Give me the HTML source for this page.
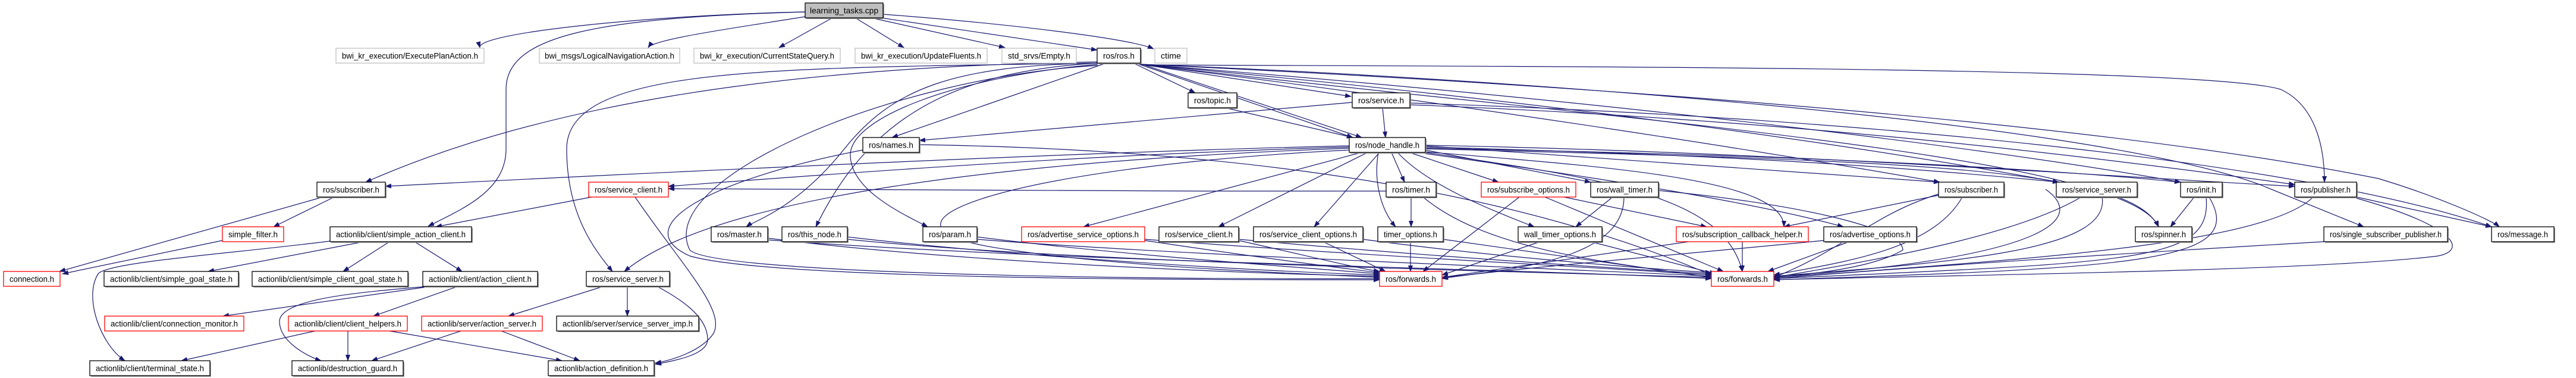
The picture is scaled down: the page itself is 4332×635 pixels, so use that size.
<!DOCTYPE html>
<html><head><meta charset="utf-8"><style>
html,body{margin:0;padding:0;background:#fff;width:4332px;height:635px;overflow:hidden}
svg{display:block}
text{font-family:"Liberation Sans",sans-serif;font-size:14px;fill:#000}
.e{fill:none;stroke:#191970;stroke-width:1.2;marker-end:url(#a)}
.n{fill:#fff;stroke:#000;stroke-width:1.3}
.r{fill:#fff;stroke:#ff0000;stroke-width:1.3}
.g{fill:#fff;stroke:#bfbfbf;stroke-width:1.3}
.s{fill:#999;stroke:none}
</style></head><body>
<svg width="4332" height="635" viewBox="0 0 4332 635" xmlns="http://www.w3.org/2000/svg">
<defs><marker id="a" markerUnits="userSpaceOnUse" markerWidth="11" markerHeight="8" refX="10" refY="4" orient="auto"><path d="M0,0 L11,4 L0,8 z" fill="#191970"/></marker></defs>
<g>
<path class="e" d="M1354,20 C1100,25 800,55 807,80"/>
<path class="e" d="M1360,27 C1250,45 1100,65 1090,80"/>
<path class="e" d="M1398,31 L1310,80"/>
<path class="e" d="M1440,31 L1520,80"/>
<path class="e" d="M1470,31 L1690,80"/>
<path class="e" d="M1475,29 L1845,84"/>
<path class="e" d="M1485,24 C1700,40 1900,65 1940,82"/>
<path class="e" d="M1354,20 C1000,30 851,60 851,150 L851,250 C851,320 780,350 720,380"/>
<path class="e" d="M1846,104 C1300,112 900,180 615,306"/>
<path class="e" d="M1846,106 C1300,115 953,110 953,250 C953,360 1000,420 1030,456"/>
<path class="e" d="M1860,106 L1500,231"/>
<path class="e" d="M1846,106 C1600,110 1500,150 1420,250 C1340,350 1270,370 1255,381"/>
<path class="e" d="M1846,106 C1600,120 1460,200 1372,381"/>
<path class="e" d="M1846,108 C1600,130 1430,200 1430,260 C1430,320 1520,360 1560,381"/>
<path class="e" d="M1906,106 L2010,156"/>
<path class="e" d="M1918,108 L2272,162"/>
<path class="e" d="M1915,106 L2290,231"/>
<path class="e" d="M1910,106 L2275,231"/>
<path class="e" d="M1918,109 C2500,112 3700,110 3835,150 C3900,180 3909,260 3909,306"/>
<path class="e" d="M1918,108 C2600,140 3500,200 4000,300 C4100,330 4190,370 4203,381"/>
<path class="e" d="M1918,108 C2500,130 3500,200 3800,310 L3975,381"/>
<path class="e" d="M1918,108 C2600,160 3300,240 3667,306"/>
<path class="e" d="M1918,108 C2600,170 3100,240 3462,306"/>
<path class="e" d="M1918,108 C2500,180 3000,260 3262,306"/>
<path class="e" d="M1918,108 C2700,200 3580,260 3630,381"/>
<path class="e" d="M1846,110 C1500,130 1100,300 1160,420 C1200,460 1900,470 2320,468"/>
<path class="e" d="M2060,181 L2275,231"/>
<path class="e" d="M2325,181 L2330,231"/>
<path class="e" d="M2274,172 L1546,236"/>
<path class="e" d="M2371,173 C3200,200 3900,280 4190,381"/>
<path class="e" d="M2371,176 C3000,200 3500,260 3859,310"/>
<path class="e" d="M1546,243 C2000,250 2500,300 2878,462"/>
<path class="e" d="M1451,252 C1200,300 1050,380 1160,430 C1300,470 2000,470 2320,470"/>
<path class="e" d="M2269,245 C1800,255 900,300 648,313"/>
<path class="e" d="M2269,247 C1800,260 1300,300 1124,313"/>
<path class="e" d="M2269,249 C1700,270 1200,330 1050,456"/>
<path class="e" d="M2290,256 L1822,381"/>
<path class="e" d="M2300,256 L2049,381"/>
<path class="e" d="M2320,256 L2210,381"/>
<path class="e" d="M2340,256 L2362,306"/>
<path class="e" d="M2318,256 C2310,300 2320,350 2347,381"/>
<path class="e" d="M2370,256 L2520,306"/>
<path class="e" d="M2397,252 L2675,306"/>
<path class="e" d="M2350,256 C2400,310 2500,350 2580,381"/>
<path class="e" d="M2397,258 C2700,300 2950,340 3100,381"/>
<path class="e" d="M2397,245 L3262,306"/>
<path class="e" d="M2397,247 C2900,260 3200,280 3462,306"/>
<path class="e" d="M2397,249 C3000,260 3400,280 3667,306"/>
<path class="e" d="M2397,250 C3200,270 3580,280 3630,381"/>
<path class="e" d="M2397,244 C3000,255 3600,300 3859,313"/>
<path class="e" d="M2397,255 C2700,280 3000,300 3000,381"/>
<path class="e" d="M2269,252 C1700,280 1400,380 1700,420 C1900,450 2200,460 2320,466"/>
<path class="e" d="M2397,256 C2700,300 2900,330 2930,456"/>
<path class="e" d="M562,331 L460,381"/>
<path class="e" d="M543,331 L100,456"/>
<path class="e" d="M374,404 L105,460"/>
<path class="e" d="M995,331 L733,381"/>
<path class="e" d="M1068,331 C1150,450 1220,520 1200,560 C1180,590 1130,605 1102,610"/>
<path class="e" d="M612,406 L350,456"/>
<path class="e" d="M655,406 L577,456"/>
<path class="e" d="M697,406 L777,456"/>
<path class="e" d="M555,405 C400,425 180,440 165,460 C140,500 170,580 210,606"/>
<path class="e" d="M725,481 L375,531"/>
<path class="e" d="M770,481 L628,531"/>
<path class="e" d="M720,481 C620,490 470,500 470,540 C470,575 520,600 540,606"/>
<path class="e" d="M530,556 L305,606"/>
<path class="e" d="M585,556 L585,606"/>
<path class="e" d="M655,556 L945,606"/>
<path class="e" d="M775,556 L625,606"/>
<path class="e" d="M843,556 L975,606"/>
<path class="e" d="M1015,481 L855,531"/>
<path class="e" d="M1055,481 L1055,531"/>
<path class="e" d="M1105,481 C1140,500 1190,530 1190,570 C1190,595 1140,605 1102,612"/>
<path class="e" d="M1291,400 C1600,440 2100,460 2320,464"/>
<path class="e" d="M1425,398 C1700,430 2100,455 2320,462"/>
<path class="e" d="M1643,398 C1900,430 2200,450 2320,460"/>
<path class="e" d="M1291,403 C1800,440 2500,450 2878,468"/>
<path class="e" d="M1425,402 C1800,440 2500,455 2878,466"/>
<path class="e" d="M1643,402 C2000,430 2600,450 2878,464"/>
<path class="e" d="M1925,404 C2100,430 2250,450 2320,458"/>
<path class="e" d="M1925,402 C2300,430 2700,450 2878,462"/>
<path class="e" d="M2083,404 C2200,430 2280,450 2320,456"/>
<path class="e" d="M2083,402 C2400,430 2700,450 2878,460"/>
<path class="e" d="M2225,406 L2330,456"/>
<path class="e" d="M2292,402 C2500,430 2750,450 2878,458"/>
<path class="e" d="M2373,331 L2373,381"/>
<path class="e" d="M2393,331 C2500,420 2700,440 2878,466"/>
<path class="e" d="M2331,321 C1900,322 1400,318 1124,317"/>
<path class="e" d="M2372,406 L2372,456"/>
<path class="e" d="M2427,402 L2878,466"/>
<path class="e" d="M2555,331 L2393,456"/>
<path class="e" d="M2598,331 L2898,456"/>
<path class="e" d="M2630,331 L2870,381"/>
<path class="e" d="M2712,331 L2650,381"/>
<path class="e" d="M2731,331 C2731,420 2600,450 2425,466"/>
<path class="e" d="M2590,406 L2425,462"/>
<path class="e" d="M2675,406 L2885,460"/>
<path class="e" d="M2930,406 L2930,456"/>
<path class="e" d="M2840,406 L2425,466"/>
<path class="e" d="M3110,406 L2973,456"/>
<path class="e" d="M3067,404 C2800,430 2500,455 2425,468"/>
<path class="e" d="M2789,320 C3000,340 3200,380 3200,420 C3150,450 3050,460 2983,466"/>
<path class="e" d="M3260,326 C3150,360 3100,420 2983,466"/>
<path class="e" d="M3260,328 L3000,381"/>
<path class="e" d="M3300,331 C3250,420 3100,440 2983,462"/>
<path class="e" d="M3500,331 C3400,390 3200,430 2983,466"/>
<path class="e" d="M3535,331 C3550,420 3300,440 2983,464"/>
<path class="e" d="M3690,331 L3650,381"/>
<path class="e" d="M3710,331 C3720,440 3600,440 2983,468"/>
<path class="e" d="M3715,331 C3780,440 3600,450 2983,470"/>
<path class="e" d="M3963,331 L4190,381"/>
<path class="e" d="M3890,331 C3800,420 3300,440 2983,468"/>
<path class="e" d="M3963,333 C4130,380 4150,420 4100,430 C3900,455 3300,462 2983,470"/>
<path class="e" d="M3908,406 C3500,430 3200,450 2983,468"/>
<path class="e" d="M3440,318 C3500,360 3480,430 2983,466"/>
</g>
<g>
<rect class="s" x="1356" y="7" width="131" height="25"/><rect x="1354" y="5" width="131" height="25" fill="#bfbfbf" stroke="#000" stroke-width="1.3"/><text x="1419.5" y="22.5" text-anchor="middle" textLength="115" lengthAdjust="spacingAndGlyphs">learning_tasks.cpp</text>
<rect class="g" x="565" y="81" width="249" height="25"/><text x="689.5" y="98.5" text-anchor="middle" textLength="229" lengthAdjust="spacingAndGlyphs">bwi_kr_execution/ExecutePlanAction.h</text>
<rect class="g" x="907" y="81" width="236" height="25"/><text x="1025" y="98.5" text-anchor="middle" textLength="218" lengthAdjust="spacingAndGlyphs">bwi_msgs/LogicalNavigationAction.h</text>
<rect class="g" x="1167" y="81" width="246" height="25"/><text x="1290" y="98.5" text-anchor="middle" textLength="226" lengthAdjust="spacingAndGlyphs">bwi_kr_execution/CurrentStateQuery.h</text>
<rect class="g" x="1438" y="81" width="222" height="25"/><text x="1549" y="98.5" text-anchor="middle" textLength="202" lengthAdjust="spacingAndGlyphs">bwi_kr_execution/UpdateFluents.h</text>
<rect class="g" x="1685" y="81" width="125" height="25"/><text x="1747.5" y="98.5" text-anchor="middle" textLength="105" lengthAdjust="spacingAndGlyphs">std_srvs/Empty.h</text>
<rect class="s" x="1847" y="83" width="73" height="25"/><rect class="n" x="1845" y="81" width="73" height="25"/><text x="1881.5" y="98.5" text-anchor="middle" textLength="53" lengthAdjust="spacingAndGlyphs">ros/ros.h</text>
<rect class="g" x="1942" y="81" width="54" height="25"/><text x="1969" y="98.5" text-anchor="middle" textLength="34" lengthAdjust="spacingAndGlyphs">ctime</text>
<rect class="s" x="2000" y="158" width="82" height="25"/><rect class="n" x="1998" y="156" width="82" height="25"/><text x="2039" y="173.5" text-anchor="middle" textLength="62" lengthAdjust="spacingAndGlyphs">ros/topic.h</text>
<rect class="s" x="2276" y="158" width="97" height="25"/><rect class="n" x="2274" y="156" width="97" height="25"/><text x="2322.5" y="173.5" text-anchor="middle" textLength="77" lengthAdjust="spacingAndGlyphs">ros/service.h</text>
<rect class="s" x="1453" y="233" width="95" height="25"/><rect class="n" x="1451" y="231" width="95" height="25"/><text x="1498.5" y="248.5" text-anchor="middle" textLength="75" lengthAdjust="spacingAndGlyphs">ros/names.h</text>
<rect class="s" x="2271" y="233" width="128" height="25"/><rect class="n" x="2269" y="231" width="128" height="25"/><text x="2333" y="248.5" text-anchor="middle" textLength="108" lengthAdjust="spacingAndGlyphs">ros/node_handle.h</text>
<rect class="s" x="535" y="308" width="115" height="25"/><rect class="n" x="533" y="306" width="115" height="25"/><text x="590.5" y="323.5" text-anchor="middle" textLength="95" lengthAdjust="spacingAndGlyphs">ros/subscriber.h</text>
<rect class="r" x="990" y="306" width="134" height="25"/><text x="1057" y="323.5" text-anchor="middle" textLength="114" lengthAdjust="spacingAndGlyphs">ros/service_client.h</text>
<rect class="s" x="2333" y="308" width="84" height="25"/><rect class="n" x="2331" y="306" width="84" height="25"/><text x="2373" y="323.5" text-anchor="middle" textLength="64" lengthAdjust="spacingAndGlyphs">ros/timer.h</text>
<rect class="r" x="2491" y="306" width="159" height="25"/><text x="2570.5" y="323.5" text-anchor="middle" textLength="139" lengthAdjust="spacingAndGlyphs">ros/subscribe_options.h</text>
<rect class="s" x="2677" y="308" width="114" height="25"/><rect class="n" x="2675" y="306" width="114" height="25"/><text x="2732" y="323.5" text-anchor="middle" textLength="94" lengthAdjust="spacingAndGlyphs">ros/wall_timer.h</text>
<rect class="s" x="3262" y="308" width="110" height="25"/><rect class="n" x="3260" y="306" width="110" height="25"/><text x="3315" y="323.5" text-anchor="middle" textLength="90" lengthAdjust="spacingAndGlyphs">ros/subscriber.h</text>
<rect class="s" x="3460" y="308" width="136" height="25"/><rect class="n" x="3458" y="306" width="136" height="25"/><text x="3526" y="323.5" text-anchor="middle" textLength="116" lengthAdjust="spacingAndGlyphs">ros/service_server.h</text>
<rect class="s" x="3669" y="308" width="70" height="25"/><rect class="n" x="3667" y="306" width="70" height="25"/><text x="3702" y="323.5" text-anchor="middle" textLength="50" lengthAdjust="spacingAndGlyphs">ros/init.h</text>
<rect class="s" x="3861" y="308" width="104" height="25"/><rect class="n" x="3859" y="306" width="104" height="25"/><text x="3911" y="323.5" text-anchor="middle" textLength="84" lengthAdjust="spacingAndGlyphs">ros/publisher.h</text>
<rect class="r" x="374" y="381" width="103" height="25"/><text x="425.5" y="398.5" text-anchor="middle" textLength="83" lengthAdjust="spacingAndGlyphs">simple_filter.h</text>
<rect class="s" x="557" y="383" width="238" height="25"/><rect class="n" x="555" y="381" width="238" height="25"/><text x="674" y="398.5" text-anchor="middle" textLength="218" lengthAdjust="spacingAndGlyphs">actionlib/client/simple_action_client.h</text>
<rect class="s" x="1198" y="383" width="95" height="25"/><rect class="n" x="1196" y="381" width="95" height="25"/><text x="1243.5" y="398.5" text-anchor="middle" textLength="75" lengthAdjust="spacingAndGlyphs">ros/master.h</text>
<rect class="s" x="1317" y="383" width="110" height="25"/><rect class="n" x="1315" y="381" width="110" height="25"/><text x="1370" y="398.5" text-anchor="middle" textLength="90" lengthAdjust="spacingAndGlyphs">ros/this_node.h</text>
<rect class="s" x="1554" y="383" width="91" height="25"/><rect class="n" x="1552" y="381" width="91" height="25"/><text x="1597.5" y="398.5" text-anchor="middle" textLength="71" lengthAdjust="spacingAndGlyphs">ros/param.h</text>
<rect class="r" x="1718" y="381" width="207" height="25"/><text x="1821.5" y="398.5" text-anchor="middle" textLength="187" lengthAdjust="spacingAndGlyphs">ros/advertise_service_options.h</text>
<rect class="s" x="1951" y="383" width="134" height="25"/><rect class="n" x="1949" y="381" width="134" height="25"/><text x="2016" y="398.5" text-anchor="middle" textLength="114" lengthAdjust="spacingAndGlyphs">ros/service_client.h</text>
<rect class="s" x="2110" y="383" width="184" height="25"/><rect class="n" x="2108" y="381" width="184" height="25"/><text x="2200" y="398.5" text-anchor="middle" textLength="164" lengthAdjust="spacingAndGlyphs">ros/service_client_options.h</text>
<rect class="s" x="2319" y="383" width="110" height="25"/><rect class="n" x="2317" y="381" width="110" height="25"/><text x="2372" y="398.5" text-anchor="middle" textLength="90" lengthAdjust="spacingAndGlyphs">timer_options.h</text>
<rect class="s" x="2555" y="383" width="141" height="25"/><rect class="n" x="2553" y="381" width="141" height="25"/><text x="2623.5" y="398.5" text-anchor="middle" textLength="121" lengthAdjust="spacingAndGlyphs">wall_timer_options.h</text>
<rect class="r" x="2819" y="381" width="222" height="25"/><text x="2930" y="398.5" text-anchor="middle" textLength="202" lengthAdjust="spacingAndGlyphs">ros/subscription_callback_helper.h</text>
<rect class="s" x="3069" y="383" width="156" height="25"/><rect class="n" x="3067" y="381" width="156" height="25"/><text x="3145" y="398.5" text-anchor="middle" textLength="136" lengthAdjust="spacingAndGlyphs">ros/advertise_options.h</text>
<rect class="s" x="3593" y="383" width="95" height="25"/><rect class="n" x="3591" y="381" width="95" height="25"/><text x="3638.5" y="398.5" text-anchor="middle" textLength="75" lengthAdjust="spacingAndGlyphs">ros/spinner.h</text>
<rect class="s" x="3910" y="383" width="208" height="25"/><rect class="n" x="3908" y="381" width="208" height="25"/><text x="4012" y="398.5" text-anchor="middle" textLength="188" lengthAdjust="spacingAndGlyphs">ros/single_subscriber_publisher.h</text>
<rect class="s" x="4192" y="383" width="105" height="25"/><rect class="n" x="4190" y="381" width="105" height="25"/><text x="4242.5" y="398.5" text-anchor="middle" textLength="85" lengthAdjust="spacingAndGlyphs">ros/message.h</text>
<rect class="r" x="6" y="456" width="95" height="25"/><text x="53.5" y="473.5" text-anchor="middle" textLength="75" lengthAdjust="spacingAndGlyphs">connection.h</text>
<rect class="s" x="177" y="458" width="226" height="25"/><rect class="n" x="175" y="456" width="226" height="25"/><text x="288" y="473.5" text-anchor="middle" textLength="206" lengthAdjust="spacingAndGlyphs">actionlib/client/simple_goal_state.h</text>
<rect class="s" x="426" y="458" width="262" height="25"/><rect class="n" x="424" y="456" width="262" height="25"/><text x="555" y="473.5" text-anchor="middle" textLength="242" lengthAdjust="spacingAndGlyphs">actionlib/client/simple_client_goal_state.h</text>
<rect class="s" x="713" y="458" width="193" height="25"/><rect class="n" x="711" y="456" width="193" height="25"/><text x="807.5" y="473.5" text-anchor="middle" textLength="173" lengthAdjust="spacingAndGlyphs">actionlib/client/action_client.h</text>
<rect class="s" x="988" y="458" width="140" height="25"/><rect class="n" x="986" y="456" width="140" height="25"/><text x="1056" y="473.5" text-anchor="middle" textLength="120" lengthAdjust="spacingAndGlyphs">ros/service_server.h</text>
<rect class="r" x="2320" y="456" width="105" height="25"/><text x="2372.5" y="473.5" text-anchor="middle" textLength="85" lengthAdjust="spacingAndGlyphs">ros/forwards.h</text>
<rect class="r" x="2878" y="456" width="105" height="25"/><text x="2930.5" y="473.5" text-anchor="middle" textLength="85" lengthAdjust="spacingAndGlyphs">ros/forwards.h</text>
<rect class="r" x="176" y="531" width="234" height="25"/><text x="293" y="548.5" text-anchor="middle" textLength="214" lengthAdjust="spacingAndGlyphs">actionlib/client/connection_monitor.h</text>
<rect class="r" x="485" y="531" width="200" height="25"/><text x="585" y="548.5" text-anchor="middle" textLength="180" lengthAdjust="spacingAndGlyphs">actionlib/client/client_helpers.h</text>
<rect class="r" x="709" y="531" width="203" height="25"/><text x="810.5" y="548.5" text-anchor="middle" textLength="183" lengthAdjust="spacingAndGlyphs">actionlib/server/action_server.h</text>
<rect class="s" x="938" y="533" width="239" height="25"/><rect class="n" x="936" y="531" width="239" height="25"/><text x="1055.5" y="548.5" text-anchor="middle" textLength="219" lengthAdjust="spacingAndGlyphs">actionlib/server/service_server_imp.h</text>
<rect class="s" x="153" y="608" width="202" height="25"/><rect class="n" x="151" y="606" width="202" height="25"/><text x="252" y="623.5" text-anchor="middle" textLength="182" lengthAdjust="spacingAndGlyphs">actionlib/client/terminal_state.h</text>
<rect class="s" x="493" y="608" width="187" height="25"/><rect class="n" x="491" y="606" width="187" height="25"/><text x="584.5" y="623.5" text-anchor="middle" textLength="167" lengthAdjust="spacingAndGlyphs">actionlib/destruction_guard.h</text>
<rect class="s" x="924" y="608" width="178" height="25"/><rect class="n" x="922" y="606" width="178" height="25"/><text x="1011" y="623.5" text-anchor="middle" textLength="158" lengthAdjust="spacingAndGlyphs">actionlib/action_definition.h</text>
</g>
</svg>
</body></html>
